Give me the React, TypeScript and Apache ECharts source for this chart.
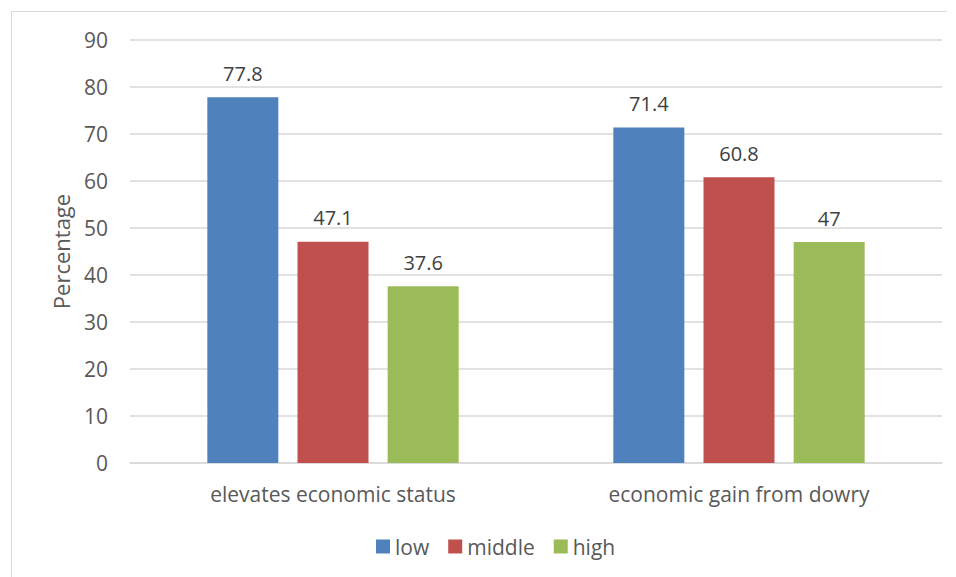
import React, { useEffect, useRef } from "react";
import * as echarts from "echarts";

const categories = ["elevates economic status", "economic gain from dowry"];
const seriesNames = ["low", "middle", "high"];
const lowValues = [77.8, 71.4];
const middleValues = [47.1, 60.8];
const highValues = [37.6, 47];
const colors = ["#4F81BD", "#C0504D", "#9BBB59"];

const FONT = "'Open Sans', 'Noto Sans', sans-serif";

export default function App() {
  const ref = useRef<HTMLDivElement>(null);
  useEffect(() => {
    if (!ref.current) return;
    const chart = echarts.init(ref.current, undefined, { renderer: "svg" });
    const values = [lowValues, middleValues, highValues];
    chart.setOption({
      animation: false,
      backgroundColor: "#ffffff",
      textStyle: { fontFamily: FONT },
      graphic: [
        { type: "line", shape: { x1: 11, y1: 11.5, x2: 947, y2: 11.5 }, style: { stroke: "#d9d9d9", lineWidth: 1 } },
        { type: "line", shape: { x1: 11.5, y1: 11, x2: 11.5, y2: 577 }, style: { stroke: "#d9d9d9", lineWidth: 1 } },
      ],
      grid: { left: 130, right: 14, top: 40, bottom: 114, containLabel: false },
      legend: {
        bottom: 15,
        left: 371,
        itemWidth: 14,
        itemHeight: 14,
        itemGap: 19,
        icon: "rect",
        textStyle: { color: "#595959", fontSize: 21, fontFamily: FONT },
        data: seriesNames,
      },
      xAxis: {
        type: "category",
        data: categories,
        axisLine: { lineStyle: { color: "#d9d9d9", width: 1.5 } },
        axisTick: { show: false },
        axisLabel: { color: "#595959", fontSize: 21, margin: 20, fontFamily: FONT },
      },
      yAxis: {
        type: "value",
        min: 0,
        max: 90,
        interval: 10,
        name: "Percentage",
        nameLocation: "middle",
        nameGap: 58,
        nameRotate: 90,
        nameTextStyle: { color: "#595959", fontSize: 22, fontFamily: FONT },
        axisLine: { show: false },
        axisTick: { show: false },
        axisLabel: { color: "#595959", fontSize: 21, margin: 22, fontFamily: FONT },
        splitLine: { lineStyle: { color: "#d9d9d9", width: 1.5 } },
      },
      series: seriesNames.map((name, i) => ({
        name,
        type: "bar",
        data: values[i],
        barWidth: 71,
        barGap: "27%",
        itemStyle: { color: colors[i] },
        label: {
          show: true,
          position: "top",
          distance: 14,
          color: "#404040",
          fontSize: 20,
          fontFamily: FONT,
        },
      })),
    });
    return () => chart.dispose();
  }, []);
  return (
    <div
      ref={ref}
      style={{ position: "fixed", left: 0, top: 0, width: 956, height: 577 }}
    />
  );
}
